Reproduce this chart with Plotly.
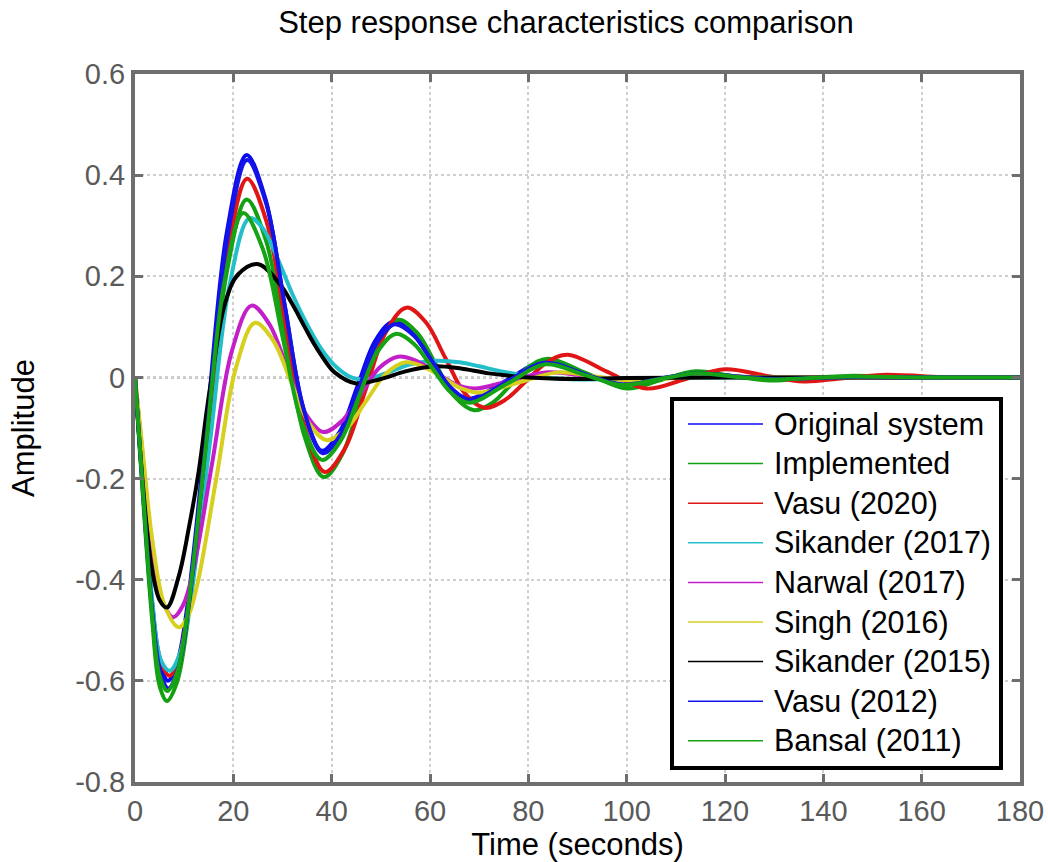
import plotly.graph_objects as go

# ---------------- data ----------------
names = ["Original system", "Implemented", "Vasu (2020)", "Sikander (2017)",
         "Narwal (2017)", "Singh (2016)", "Sikander (2015)", "Vasu (2012)", "Bansal (2011)"]
colors = ["#0b0bef", "#12a012", "#e01515", "#22bfca", "#c21fc8", "#d6cf1e", "#000000", "#1414e6", "#16a316"]

orig_t = [0, 1.5, 3.5, 5, 6.7, 8.7, 10.7, 14.7, 18.7, 22.7, 26.5, 30.35, 34.2, 38, 41.6, 45.25, 48.9, 52.5,
          56.4, 60.25, 64.1, 68, 75.5, 83, 91, 99, 106.5, 114, 122, 130, 145, 160, 180]
orig_y = [0, -0.2, -0.45, -0.56, -0.60, -0.56, -0.448, -0.08, 0.288, 0.44, 0.354, 0.1475, -0.059, -0.145,
          -0.108, -0.0175, 0.073, 0.11, 0.088, 0.034, -0.02, -0.042, -0.006, 0.03, 0.008, -0.014, -0.003,
          0.008, 0.0025, -0.003, 0.001, 0, 0]

impl_t = [0, 1.5, 3.5, 5, 6.5, 8.5, 10.55, 14.6, 18.65, 22.7, 26.6, 30.55, 34.5, 38.4, 42.2, 45.95, 49.7, 53.5,
          57.4, 61.25, 65.1, 69, 72.75, 76.5, 80.25, 84, 92, 100, 107, 114, 121.5, 129, 137, 145, 160, 180]
impl_y = [0, -0.22, -0.48, -0.61, -0.64, -0.604, -0.495, -0.144, 0.207, 0.352, 0.272, 0.0775, -0.117, -0.197,
          -0.151, -0.0415, 0.068, 0.114, 0.088, 0.0245, -0.039, -0.065, -0.05, -0.014, 0.022, 0.037, 0.0075,
          -0.022, -0.005, 0.012, 0.003, -0.006, -0.0015, 0.003, 0, 0]

vasu2020_t = [0, 1.5, 3.5, 5.2, 7, 8.9, 10.95, 14.9, 18.85, 22.8, 26.75, 30.7, 34.65, 38.6, 42.75, 46.9, 51.05,
              55.2, 59.15, 63.1, 67.05, 71, 75.25, 79.5, 83.75, 88, 96, 104, 112, 120, 128, 136, 144, 152, 168, 180]
vasu2020_y = [0, -0.2, -0.45, -0.56, -0.59, -0.556, -0.446, -0.0985, 0.249, 0.393, 0.308, 0.103, -0.102, -0.187,
              -0.1395, -0.0245, 0.0905, 0.138, 0.109, 0.039, -0.031, -0.06, -0.0446, -0.0075, 0.0296, 0.045,
              0.0115, -0.022, -0.003, 0.016, 0.004, -0.008, -0.0015, 0.005, -0.001, 0]

sik2017_t = [0, 1.5, 3.5, 5.3, 7.1, 9.1, 11.15, 15.2, 19.25, 23.3, 26, 29, 32, 35, 38, 41, 44, 47, 51,
             56, 61, 66, 70, 74, 78, 83, 90, 100, 115, 180]
sik2017_y = [0, -0.19, -0.44, -0.56, -0.58, -0.547, -0.449, -0.1325, 0.184, 0.315, 0.295, 0.235, 0.165, 0.105,
             0.055, 0.02, 0.0, -0.004, 0.008, 0.026, 0.033, 0.03, 0.022, 0.013, 0.006, 0.0, -0.004, -0.002, 0, 0]

nar2017_t = [0, 1.5, 3.5, 5.5, 7.8, 9.8, 11.8, 15.75, 19.7, 23.7, 27.35, 31, 34.65, 38.3, 42.1, 45.9, 49.7, 53.5,
             57.4, 61.25, 65.1, 69, 76.5, 84, 92, 100, 115, 130, 180]
nar2017_y = [0, -0.15, -0.34, -0.44, -0.474, -0.45, -0.384, -0.166, 0.052, 0.142, 0.105, 0.017, -0.071, -0.108,
             -0.086, -0.0335, 0.019, 0.041, 0.032, 0.0095, -0.013, -0.022, -0.006, 0.01, 0.0025, -0.005, 0.002, 0, 0]

singh2016_t = [0, 1.5, 3.5, 6, 8.9, 10.85, 12.75, 16.65, 20.55, 24.4, 28.05, 31.7, 35.35, 39, 43, 47, 51, 55,
               58.75, 62.5, 66.25, 70, 78, 86, 93.5, 101, 115, 130, 180]
singh2016_y = [0, -0.14, -0.32, -0.45, -0.494, -0.471, -0.406, -0.193, 0.02, 0.108, 0.074, -0.008, -0.09, -0.124,
               -0.101, -0.047, 0.007, 0.03, 0.021, 0, -0.021, -0.03, -0.01, 0.01, 0.002, -0.006, 0.002, 0, 0]

sik2015_t = [0, 1.5, 3.3, 5, 6.5, 8.9, 11, 13, 14.6, 15.6, 18.3, 21, 25.1, 29.8, 32, 34.5, 36.5, 38.5, 40.6, 45,
             50, 55, 61, 66, 72, 80, 90, 100, 120, 180]
sik2015_y = [0, -0.2, -0.37, -0.44, -0.455, -0.393, -0.295, -0.183, -0.065, 0, 0.146, 0.204, 0.224, 0.18, 0.145,
             0.10, 0.065, 0.035, 0.01, -0.012, -0.003, 0.012, 0.022, 0.018, 0.008, 0.0, -0.003, -0.001, 0, 0]

vasu2012_t = [0, 1.5, 3.5, 5.1, 6.8, 8.8, 10.8, 14.8, 18.8, 22.8, 26.65, 30.5, 34.35, 38.2, 41.85, 45.5, 49.15,
              52.8, 56.7, 60.55, 64.4, 68.3, 75.8, 83.3, 91.2, 99, 106.5, 114, 122, 130, 145, 160, 180]
vasu2012_y = [0, -0.21, -0.46, -0.58, -0.615, -0.575, -0.462, -0.0925, 0.277, 0.43, 0.345, 0.14, -0.065, -0.15,
              -0.1126, -0.0225, 0.0676, 0.105, 0.083, 0.0305, -0.022, -0.044, -0.0075, 0.029, 0.0075, -0.014,
              -0.003, 0.008, 0.0025, -0.003, 0.001, 0, 0]

bansal_t = [0, 1.5, 3.5, 5, 6.6, 8.5, 10.45, 14.3, 18.15, 22, 26, 30, 34, 38, 41.75, 45.5, 49.25, 53, 56.75,
            60.5, 64.25, 68, 75.75, 83.5, 91.25, 99, 106.5, 114, 121.5, 129, 145, 160, 180]
bansal_y = [0, -0.21, -0.47, -0.59, -0.62, -0.586, -0.482, -0.1475, 0.187, 0.325, 0.254, 0.081, -0.0915, -0.163,
            -0.1265, -0.0385, 0.0495, 0.086, 0.066, 0.018, -0.03, -0.05, -0.012, 0.026, 0.0055, -0.015, -0.0035,
            0.008, 0.002, -0.004, 0.002, 0, 0]

x_ticks = [0, 20, 40, 60, 80, 100, 120, 140, 160, 180]
y_tick_vals = [-0.8, -0.6, -0.4, -0.2, 0, 0.2, 0.4, 0.6]
y_tick_text = ["-0.8", "-0.6", "-0.4", "-0.2", "0", "0.2", "0.4", "0.6"]

series_t = [orig_t, impl_t, vasu2020_t, sik2017_t, nar2017_t, singh2016_t, sik2015_t, vasu2012_t, bansal_t]
series_y = [orig_y, impl_y, vasu2020_y, sik2017_y, nar2017_y, singh2016_y, sik2015_y, vasu2012_y, bansal_y]

# ---------------- figure ----------------
FONT = "Liberation Sans, Arial, Helvetica, sans-serif"
AX = "#6e6e6e"

fig = go.Figure()
for n, c, t, y in zip(names, colors, series_t, series_y):
    fig.add_trace(go.Scatter(x=t, y=y, mode="lines", name=n, showlegend=False,
                             line=dict(color=c, width=4, shape="spline", smoothing=1.0)))

# dotted steady-state line at zero
fig.add_shape(type="line", xref="paper", x0=0, x1=1, yref="y", y0=0, y1=0,
              line=dict(color="#8a8a8a", width=2, dash="dot"), layer="below")

# legend box (drawn manually to get MATLAB-like long thin sample lines)
L_W, L_H = 885.0, 708.0
def py(p):
    return (782.0 - p) / L_H
def px(p):
    return (p - 135.0) / L_W

fig.add_shape(type="rect", xref="paper", yref="paper", x0=px(672), x1=px(1001), y0=py(768), y1=py(399),
              line=dict(color="black", width=4), fillcolor="white", layer="above")
for i, (n, c) in enumerate(zip(names, colors)):
    yy = py(424 + 39.6 * i)
    fig.add_shape(type="line", xref="paper", yref="paper", x0=px(688), x1=px(763), y0=yy, y1=yy,
                  line=dict(color=c, width=1.5), layer="above")
    fig.add_annotation(xref="paper", yref="paper", x=px(772), y=yy, xanchor="left", yanchor="middle",
                       text=n, showarrow=False, font=dict(family=FONT, size=30.5, color="black"))

fig.update_layout(
    width=1048, height=862,
    paper_bgcolor="white", plot_bgcolor="white",
    margin=dict(l=135, r=28, t=74, b=80),
    showlegend=False,
    title=dict(text="Step response characteristics comparison", xref="container", x=0.54,
               yref="container", y=1 - 22 / 862, xanchor="center", yanchor="middle",
               font=dict(family=FONT, size=31, color="black")),
    font=dict(family=FONT),
)
fig.update_xaxes(range=[0, 180], tickvals=x_ticks, showgrid=True, gridcolor="#cfcfcf", griddash="dot",
                 gridwidth=1.5, zeroline=False, showline=True, linecolor=AX, linewidth=4,
                 mirror="allticks", ticks="inside", ticklen=8, tickwidth=3, tickcolor=AX,
                 tickfont=dict(family=FONT, size=29, color="#5a5a5a"),
                 title=dict(text="Time (seconds)", standoff=2, font=dict(family=FONT, size=31, color="black")),
                 automargin=False)
fig.update_yaxes(range=[-0.8, 0.6], tickvals=y_tick_vals, ticktext=y_tick_text, showgrid=True,
                 gridcolor="#cfcfcf", griddash="dot", gridwidth=1.5, zeroline=False, showline=True,
                 linecolor=AX, linewidth=4, mirror="allticks", ticks="inside", ticklen=8, tickwidth=3,
                 tickcolor=AX, tickfont=dict(family=FONT, size=29, color="#5a5a5a"),
                 title=dict(text="Amplitude", standoff=32, font=dict(family=FONT, size=31, color="black")),
                 automargin=False)

fig.write_html("out.html", config={"displayModeBar": False},
               post_script="document.body.style.margin='0';document.body.style.overflow='hidden';")
